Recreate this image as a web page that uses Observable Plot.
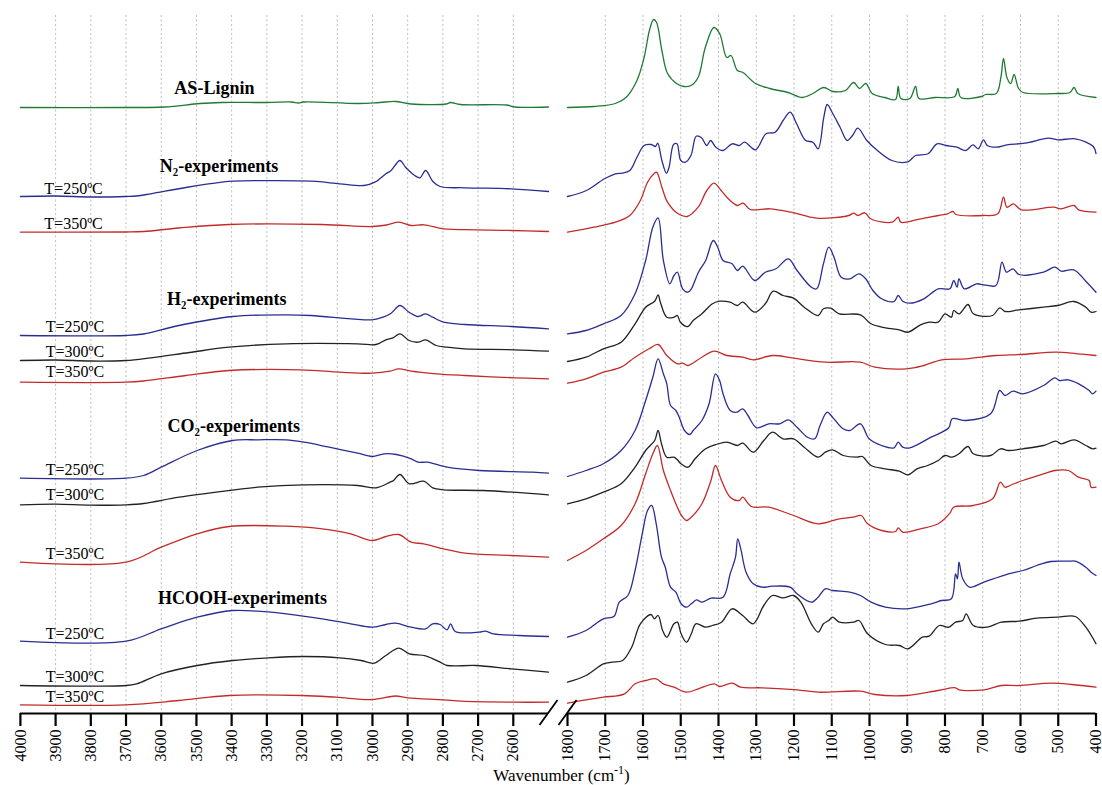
<!DOCTYPE html>
<html>
<head>
<meta charset="utf-8">
<script src="https://cdn.jsdelivr.net/npm/d3@7"></script>
<script src="https://cdn.jsdelivr.net/npm/@observablehq/plot@0.6"></script>
<style>
  body { margin: 0; background: #fff; }
  #chart svg { display: block; }
</style>
</head>
<body>
<div id="chart"></div>
<script>
// FTIR spectra of lignin before and after treatment, stacked with vertical offsets.
// Each spectrum is split into the high-wavenumber region (4000–2500 cm-1)
// and the fingerprint region (1800–400 cm-1); values are offset intensities (a.u.).

// ---- AS-Lignin ----
const asLigninHi = [[4000,606],[3700,606],[3590,606.5],[3490,610],[3430,611],[3300,611],[3230,611.5],[3210,610.5],[3195,611.5],[3040,610],[2980,611],[2935,612],[2890,609.5],[2790,609.5],[2778,611],[2750,609],[2620,608.5],[2595,606.5],[2500,606.5]];
const asLigninLo = [[1800,606],[1730,607],[1673,610],[1645,616],[1616,633],[1597,656],[1583,683],[1572,694],[1564,691],[1550,663],[1535,640],[1511,630],[1492,627],[1473,628],[1454,636],[1435,666],[1412,686],[1397,680],[1378,656],[1367,658],[1350,643],[1335,641],[1302,630],[1264,625],[1216,621],[1178,616],[1150,620],[1121,626],[1097,622],[1064,623],[1042,631],[1026,625],[1010,630],[993,620],[959,616],[931,614],[924,627],[917,615],[893,615],[878,627],[869,615],[826,616],[774,617],[766,625],[758,616],[703,617],[693,619],[664,620],[652,636],[645,655],[636,636],[626,630],[617,639],[605,625],[593,621],[502,620],[469,621],[458,626],[448,620],[400,616]];

// ---- N2 experiments ----
const n2T250Hi = [[4000,517],[3900,517.5],[3800,516.5],[3700,517],[3670,517.5],[3630,519.7],[3530,526],[3428,531.3],[3396,532.3],[3173,532.3],[3093,529.7],[3024,528],[2993,531.3],[2962,539.7],[2947,543],[2922,553],[2906,546.3],[2880,538],[2865,535.7],[2849,543],[2829,532.3],[2808,527],[2738,525.7],[2605,524.7],[2500,522]];
const n2T250Lo = [[1800,517],[1750,523],[1702,534.7],[1673,539.7],[1655,540.3],[1635,543],[1616,556.3],[1597,568],[1578,569],[1567,567],[1561,570.3],[1550,553],[1538,540.3],[1531,546.3],[1519,569],[1510,569.7],[1500,553],[1488,551.3],[1473,558],[1459,577.3],[1445,575.7],[1431,568],[1421,573],[1407,566.3],[1388,563],[1364,569.7],[1345,568],[1331,571.3],[1302,563.7],[1274,579.7],[1250,581.3],[1226,594.7],[1210,601.3],[1193,589.7],[1169,573],[1150,571.3],[1136,564.7],[1121,596.3],[1112,609],[1097,599.7],[1078,586.3],[1059,573],[1045,578],[1031,585.3],[1007,573],[979,563],[941,553],[902,551.3],[893,553],[878,558],[845,559.7],[821,569.7],[797,568],[769,566.3],[745,563],[726,568.7],[712,564.7],[698,573.7],[688,568],[664,566.3],[636,568.7],[588,570.3],[526,575.3],[502,573.7],[455,574.7],[426,571.3],[407,567],[400,560]];
const n2T350Hi = [[4000,481.3],[3700,481.5],[3650,482],[3550,485.5],[3407,489],[3143,489],[3001,487],[2960,488.5],[2925,491.3],[2890,488],[2854,488.7],[2798,484.7],[2707,483.7],[2605,483],[2500,482]];
const n2T350Lo = [[1800,481.3],[1730,486.3],[1673,491.3],[1635,498],[1607,513],[1588,531.3],[1571,539.7],[1564,541.3],[1550,526.3],[1535,511.3],[1507,499.7],[1483,497],[1454,506.3],[1431,523],[1412,530.3],[1393,523],[1374,514.7],[1350,508],[1335,510.3],[1316,504],[1264,504.7],[1207,501.3],[1140,495.3],[1055,498],[1042,500.3],[1031,498],[1012,500.7],[997,494.7],[940,491.3],[924,496.3],[917,491.3],[864,494.7],[817,498],[793,499.7],[779,502],[771,499],[698,498],[660,499.7],[645,516.3],[636,506.3],[619,509.7],[598,503.7],[512,506.3],[493,504.7],[458,508],[446,503.7],[400,501.3]];

// ---- H2 experiments ----
const h2T250Hi = [[4000,378],[3700,378],[3650,379.5],[3550,388],[3397,397],[3245,398.7],[3175,398],[3060,394.7],[3001,393.7],[2970,396.3],[2947,400.3],[2922,408],[2896,401.3],[2870,397],[2849,399.7],[2829,396.3],[2798,391.3],[2738,389],[2605,387],[2500,384.7]];
const h2T250Lo = [[1800,379.7],[1751,383],[1705,389.7],[1658,398],[1621,419.7],[1593,453],[1574,486.3],[1560,495.7],[1546,453],[1529,429.7],[1518,438],[1509,441.3],[1495,424.7],[1481,421.3],[1472,424.7],[1453,441.3],[1434,453],[1414,473],[1402,466.3],[1388,453],[1364,449.7],[1350,443],[1336,447.3],[1304,433],[1276,441.3],[1248,444.7],[1215,454.7],[1192,443],[1154,426.3],[1140,424.7],[1122,449.7],[1108,466.3],[1094,456.3],[1075,436.3],[1052,434.7],[1028,439.7],[1010,434.7],[991,423],[968,414.7],[935,412],[924,418],[912,412.3],[893,410.3],[856,414.7],[818,424.7],[787,424.7],[777,433],[768,426.3],[763,434.7],[749,424.7],[716,429.7],[697,428.7],[665,428],[649,451.3],[637,441.3],[620,444.7],[604,439],[539,441.3],[509,446.3],[492,442.3],[459,443.7],[427,432.3],[400,421.3]];
const h2T300Hi = [[4000,353],[3900,353.5],[3800,352.5],[3700,353],[3630,355.7],[3520,361],[3407,366.3],[3245,369.7],[3042,369.7],[2990,369],[2962,373.7],[2942,375.7],[2922,379.7],[2896,373],[2870,371.3],[2849,373.7],[2819,368],[2788,366.3],[2738,364.7],[2596,363.7],[2500,362.3]];
const h2T300Lo = [[1800,352],[1751,356.3],[1705,364.7],[1658,371.3],[1621,389.7],[1593,406.3],[1569,412.3],[1560,418.7],[1554,411.3],[1537,396.3],[1518,396.3],[1509,398],[1501,391.3],[1481,387],[1467,393],[1444,399.7],[1416,409.7],[1397,412.3],[1369,411.3],[1350,408],[1336,411.3],[1304,401.3],[1276,409.7],[1255,422.3],[1229,418],[1201,415.3],[1173,406.3],[1136,398],[1122,404.7],[1103,405.3],[1080,399.7],[1024,398.7],[996,389.7],[958,385.7],[921,383.7],[898,381.3],[865,388.7],[842,391.3],[818,391.3],[800,399.7],[783,396.3],[777,403],[763,399.7],[739,409],[725,399.7],[674,398],[655,405.7],[641,402],[604,403.7],[539,406.3],[501,408],[459,412],[427,406.3],[413,401.3],[400,402]];
const h2T350Hi = [[4000,331.3],[3700,331.3],[3650,332.5],[3530,338],[3407,343],[3204,343.7],[3093,341.3],[3001,340.3],[2950,342.3],[2925,344.7],[2890,342.3],[2819,339.7],[2738,338],[2596,335.7],[2500,334.7]];
const h2T350Lo = [[1800,330.3],[1751,334.7],[1705,341.3],[1658,346.3],[1621,356.3],[1584,364.7],[1560,369],[1537,358],[1509,349.7],[1495,350.3],[1481,348],[1444,356.3],[1411,362.3],[1378,358],[1336,356.3],[1308,353.7],[1257,358],[1201,355.3],[1117,351.3],[1024,351.3],[986,346.3],[902,344.7],[856,348],[809,353.7],[744,354.7],[665,358],[599,359],[506,361.3],[450,359.7],[400,358]];

// ---- CO2 experiments ----
const co2T250Hi = [[4000,235.3],[3700,235.3],[3650,238],[3600,246.3],[3498,263],[3397,273],[3325,273.7],[3245,273.7],[3194,271.3],[3123,266.3],[3042,260.3],[3001,257],[2967,259.7],[2932,259],[2890,254.7],[2870,251.3],[2844,251.3],[2788,246.3],[2697,243],[2545,241.3],[2500,240.3]];
const co2T250Lo = [[1800,237],[1751,243],[1705,249.7],[1658,263],[1621,283],[1593,313],[1574,336.3],[1560,354.7],[1546,339.7],[1537,329.7],[1527,308],[1513,303],[1504,296.3],[1490,283],[1476,279],[1467,283],[1444,293],[1425,309.7],[1408,339.7],[1397,333],[1388,319.7],[1369,303],[1352,301.3],[1336,304.7],[1322,298],[1299,285.7],[1267,289.7],[1238,289.7],[1215,293.7],[1192,286.3],[1164,276.3],[1145,274.7],[1131,288],[1112,301.3],[1098,296.3],[1070,284.7],[1052,283],[1024,289.7],[1001,274.7],[968,268],[935,265.7],[924,271.3],[912,266.3],[893,265.7],[837,276.3],[790,285.7],[781,294.7],[744,293],[679,299.7],[655,323],[641,318],[620,322.3],[594,319.7],[539,328],[509,335.7],[497,333],[473,333.7],[446,329.7],[418,323],[409,319.7],[400,322.3]];
const co2T300Hi = [[4000,208.7],[3900,209.3],[3800,208.3],[3700,208.7],[3650,210],[3549,216.3],[3407,223],[3326,226.3],[3194,228.7],[3042,228],[2990,225.7],[2950,231.3],[2940,233],[2922,239],[2895,229.7],[2854,232.3],[2829,225.7],[2798,223.7],[2687,223],[2500,218.7]];
const co2T300Lo = [[1800,209.7],[1751,214.7],[1705,221.3],[1658,229.7],[1621,246.3],[1593,263],[1569,273],[1560,283],[1551,269.7],[1537,256.3],[1518,256.3],[1509,253.7],[1501,250.3],[1481,246.3],[1462,254.7],[1434,264.7],[1406,269],[1378,271.3],[1350,268],[1336,270.3],[1308,261.3],[1280,273],[1257,281.3],[1229,274.7],[1201,274.7],[1173,266.3],[1136,256.3],[1117,261.3],[1098,263.7],[1070,258],[1033,256.3],[1019,257],[996,248],[958,244.7],[921,242.3],[898,238.7],[874,244.7],[846,248],[818,253],[800,258],[781,256.3],[763,259.7],[739,267],[725,259.7],[679,258],[653,264.7],[632,263],[594,264.7],[539,268],[506,272.3],[492,269.7],[458,273.7],[427,268],[409,264.7],[400,265.3]];
const co2T350Hi = [[4000,151.3],[3700,151.3],[3600,166.3],[3498,179.7],[3407,187],[3245,187.3],[3143,184.7],[3062,179.7],[3001,173],[2962,177],[2925,179],[2890,171.3],[2854,169.7],[2798,164.7],[2738,160.3],[2606,158],[2500,156.3]];
const co2T350Lo = [[1800,153],[1751,163],[1705,174.7],[1658,188],[1621,209.7],[1593,239.7],[1574,259.7],[1562,268],[1546,243],[1527,223],[1509,206.3],[1498,198],[1485,193],[1472,196.3],[1444,209.7],[1420,233],[1408,248],[1392,233],[1369,216.3],[1345,213],[1336,216.3],[1313,207],[1267,206.3],[1201,198],[1136,189.7],[1080,194.7],[1043,196.3],[1022,198],[1005,189.7],[968,183],[931,182],[924,185.7],[912,181.3],[865,184.7],[818,189.7],[787,200.3],[777,206.3],[725,208],[674,214.7],[653,231.3],[641,226.3],[622,229],[594,233],[539,239.7],[509,243],[473,243],[446,236.3],[418,233],[413,226.3],[400,226.3]];

// ---- HCOOH experiments ----
const hcoohT250Hi = [[4000,72.3],[3700,72.3],[3600,84.7],[3498,96.3],[3397,103],[3326,102.3],[3245,99.7],[3143,94.7],[3062,89.7],[3001,86.3],[2962,89],[2935,90.3],[2890,86.3],[2849,84.7],[2829,89.7],[2808,89],[2788,83.7],[2778,89.7],[2765,82],[2697,81.3],[2680,82.3],[2656,79.7],[2585,78],[2500,77]];
const hcoohT250Lo = [[1800,76.3],[1751,83],[1705,94.7],[1677,97],[1663,111.3],[1640,118],[1621,143],[1602,179.7],[1588,203],[1577,208],[1565,189.7],[1551,156.3],[1541,146.3],[1527,126.3],[1513,121.3],[1499,109.7],[1485,106.3],[1472,109.7],[1458,113.7],[1444,111.3],[1420,115.3],[1388,116.3],[1369,139.7],[1355,156.3],[1349,174.7],[1341,164.7],[1327,141.3],[1308,129.7],[1285,126.3],[1257,127.3],[1210,126.3],[1192,119.7],[1154,111.3],[1136,116.3],[1117,124.7],[1098,123],[1052,121.3],[1024,118],[996,111.3],[958,106.3],[902,104.7],[837,109.7],[809,113],[783,114.7],[772,139.7],[767,134.7],[763,151.3],[753,134.7],[735,126.3],[697,131.3],[632,139.7],[594,143],[557,148],[520,152],[473,152.3],[455,152.3],[427,146.3],[413,141.3],[400,138]];
const hcoohT300Hi = [[4000,28],[3700,28],[3670,29.7],[3600,39.7],[3498,48],[3397,53],[3296,55.7],[3194,57],[3093,55.7],[3032,53],[2996,50.3],[2962,58],[2925,65.3],[2895,59.7],[2849,57.7],[2808,51.3],[2788,48],[2707,48],[2606,44.7],[2500,41.3]];
const hcoohT300Lo = [[1800,31.3],[1751,38],[1705,49.7],[1682,51.3],[1654,53],[1630,66.3],[1607,89.7],[1579,99],[1570,94.7],[1560,98],[1548,83],[1537,76.3],[1518,89.7],[1509,91.3],[1499,79.7],[1485,71.3],[1472,79.7],[1460,89.7],[1434,86.3],[1416,88],[1392,91.3],[1364,104.7],[1336,98],[1308,89.7],[1280,108],[1257,118],[1229,115.7],[1201,118],[1182,111.3],[1154,89.7],[1136,81.3],[1122,89.7],[1108,93],[1098,96.3],[1080,91.3],[1042,91.3],[1028,93],[1005,79.7],[958,69],[921,68],[898,64.7],[860,76.3],[842,77.3],[815,88],[790,86.3],[772,91.3],[753,93],[744,99.7],[725,88],[688,86.3],[651,91.3],[604,92.3],[557,95.3],[501,96.3],[455,97],[427,86.3],[400,69.7]];
const hcoohT350Hi = [[4000,8.7],[3700,8.7],[3550,13],[3407,18],[3200,18],[3103,16.3],[3001,14],[2935,17.5],[2900,15.7],[2798,13.7],[2748,12.3],[2600,11.3],[2500,11.3]];
const hcoohT350Lo = [[1800,10.3],[1751,13.7],[1705,16.3],[1649,19.7],[1621,29.7],[1593,33],[1565,34.7],[1546,29.7],[1518,26.3],[1485,21.3],[1453,24.7],[1411,29.7],[1397,27],[1364,30.3],[1341,26.3],[1285,25.7],[1192,23.7],[1136,21.3],[1024,22.3],[986,19],[902,18],[818,23],[772,25.7],[763,23.7],[697,23.7],[651,28],[604,28],[520,30.3],[464,29],[400,26.3]];

// ---- series, labels and ticks ----
const seriesNames = ["AS-Lignin","N2 250","N2 350","H2 250","H2 300","H2 350","CO2 250","CO2 300","CO2 350","HCOOH 250","HCOOH 300","HCOOH 350"];
const seriesHi = [asLigninHi,n2T250Hi,n2T350Hi,h2T250Hi,h2T300Hi,h2T350Hi,co2T250Hi,co2T300Hi,co2T350Hi,hcoohT250Hi,hcoohT300Hi,hcoohT350Hi];
const seriesLo = [asLigninLo,n2T250Lo,n2T350Lo,h2T250Lo,h2T300Lo,h2T350Lo,co2T250Lo,co2T300Lo,co2T350Lo,hcoohT250Lo,hcoohT300Lo,hcoohT350Lo];
const seriesKind = ["lignin","250","350","250","300","350","250","300","350","250","300","350"];

const groupTitles = ["AS-Lignin","N₂-experiments","H₂-experiments","CO₂-experiments","HCOOH-experiments"];
const groupTitleX = [3449,3436,3414,3394,3369];
const groupTitleY = [625,547,414,287,115.5];

const tempLabels = ["T=250ºC","T=350ºC","T=250ºC","T=300ºC","T=350ºC","T=250ºC","T=300ºC","T=350ºC","T=250ºC","T=300ºC","T=350ºC"];
const tempLabelX = [3932,3932,3928,3928,3928,3928,3928,3928,3928,3928,3928];
const tempLabelY = [524.8,489.8,386.4,362.1,342.1,244.1,219.1,159.8,79.8,36.4,16.4];

const ticksHigh = [4000,3900,3800,3700,3600,3500,3400,3300,3200,3100,3000,2900,2800,2700,2600];
const ticksLow = [1800,1700,1600,1500,1400,1300,1200,1100,1000,900,800,700,600,500,400];
const axisSegments = [[4000,2500],[1800,400]];

// ---- styling ----
const colorOf = {lignin: "#1f7a35", "250": "#2a2d92", "300": "#222222", "350": "#c42a2a"};
const serif = "'Liberation Serif', 'Times New Roman', serif";

// ---- build long-format table ----
const rows = [];
seriesNames.forEach((name, i) => {
  seriesHi[i].forEach(([wn, v]) => rows.push({name, seg: name + "|hi", kind: seriesKind[i], wn, v}));
  seriesLo[i].forEach(([wn, v]) => rows.push({name, seg: name + "|lo", kind: seriesKind[i], wn, v}));
});
const titleRows = groupTitles.map((t, i) => ({t, x: groupTitleX[i], y: groupTitleY[i]}));
const tempRows = tempLabels.map((t, i) => ({t, x: tempLabelX[i], y: tempLabelY[i]}));
const gridTicks = [...ticksHigh.slice(1), ...ticksLow.slice(1, -1)];

const plot = Plot.plot({
  width: 1102,
  height: 785,
  marginTop: 15,
  marginBottom: 72,
  marginLeft: 0,
  marginRight: 0,
  style: {fontFamily: serif, background: "#fff", color: "#000", overflow: "visible"},
  x: {type: "linear", domain: [4000, 2500, 1800, 400], range: [19.9, 548, 567, 1095.5]},
  y: {domain: [0, 698], axis: null},
  marks: [
    Plot.ruleX(gridTicks, {stroke: "#bdbdbd", strokeWidth: 1, strokeDasharray: "2,2.5"}),
    Plot.line(rows, {x: "wn", y: "v", z: "seg", stroke: d => colorOf[d.kind], strokeWidth: 1.3, curve: "catmull-rom"}),
    Plot.ruleY(axisSegments, {x1: d => d[0], x2: d => d[1], y: () => 0, stroke: "#000", strokeWidth: 2.2}),
    Plot.axisX([...ticksHigh, ...ticksLow], {
      tickFormat: d3.format("d"), tickRotate: -90, tickSize: 13, tickPadding: 3,
      fontSize: 16, strokeWidth: 2.2, label: null
    }),
    Plot.text(titleRows, {x: "x", y: "y", text: "t", fontSize: 18, fontWeight: "bold", textAnchor: "middle", fill: "#000"}),
    Plot.text(tempRows, {x: "x", y: "y", text: "t", fontSize: 16, textAnchor: "start", fill: "#000"})
  ]
});

// axis break marks and the axis title
const xs = plot.scale("x"), ys = plot.scale("y");
const svg = d3.select(plot);
const y0 = ys.apply(0);
[2500, 1800].forEach(v => {
  const cx = xs.apply(v) + 0.5;
  svg.append("line")
    .attr("x1", cx - 9).attr("y1", y0 + 12)
    .attr("x2", cx + 9).attr("y2", y0 - 13)
    .attr("stroke", "#000").attr("stroke-width", 1.8);
});
const title = svg.append("text")
  .attr("x", (xs.apply(2500) + xs.apply(1800)) / 2 + 4)
  .attr("y", 781)
  .attr("text-anchor", "middle")
  .attr("font-family", serif)
  .attr("font-size", 17)
  .attr("fill", "#000");
title.append("tspan").text("Wavenumber (cm");
title.append("tspan").attr("dy", -7).attr("font-size", 12).text("-1");
title.append("tspan").attr("dy", 7).text(")");

document.getElementById("chart").appendChild(plot);
</script>
</body>
</html>
